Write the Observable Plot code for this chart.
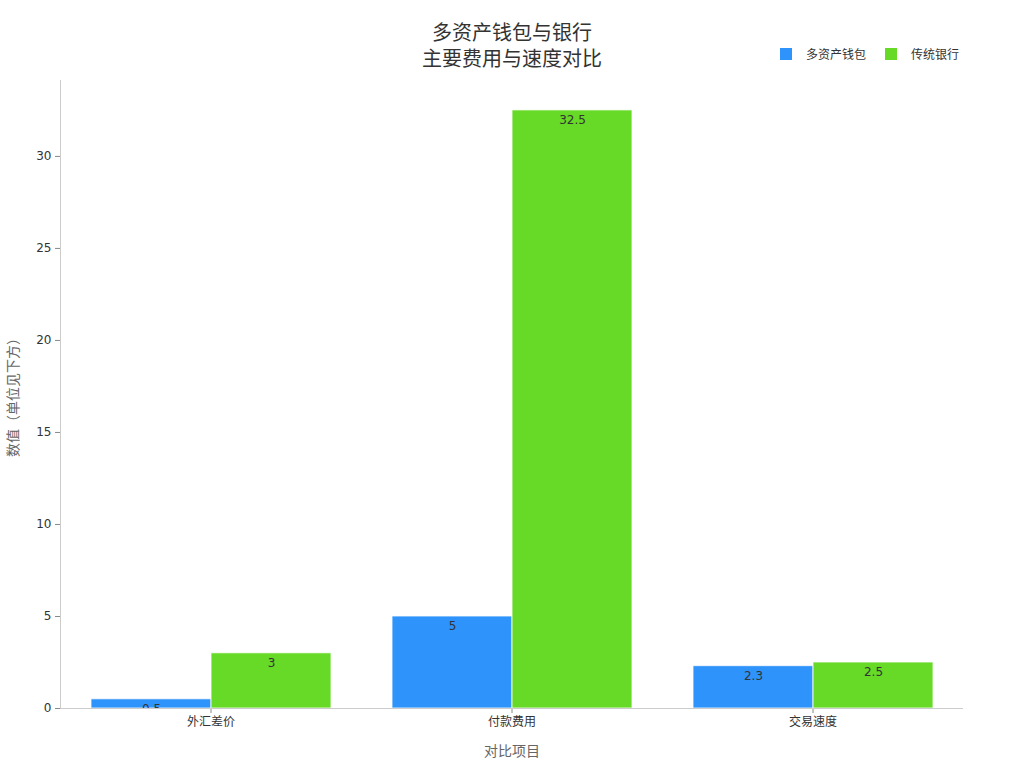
<!DOCTYPE html>
<html><head><meta charset="utf-8">
<script src="https://cdn.jsdelivr.net/npm/d3@7"></script>
<script src="https://cdn.jsdelivr.net/npm/@observablehq/plot@0.6"></script>
<style>
body{margin:0;background:#fff;font-family:"DejaVu Sans","Noto Sans CJK SC",sans-serif;}
#wrap{position:relative;width:1024px;height:768px;}
.title{position:absolute;left:0;width:1024px;text-align:center;font-size:20px;line-height:24px;height:24px;color:#333;font-family:"Noto Sans CJK SC","DejaVu Sans",sans-serif;}
#legend{position:absolute;left:780px;top:45px;font-size:12px;color:#333;font-family:"Noto Sans CJK SC",sans-serif;display:flex;align-items:center;}
#legend span.sw{display:inline-block;width:12px;height:12px;margin-right:14px;}
#legend span.lb{margin-right:19px;}
#ylabel{position:absolute;left:12px;top:394px;transform:translate(-50%,-50%) rotate(-90deg);white-space:nowrap;font-size:14px;color:#666;font-family:"Noto Sans CJK SC",sans-serif;}
#xlabel{position:absolute;left:0;width:1024px;top:740px;text-align:center;font-size:14px;line-height:20px;color:#666;font-family:"Noto Sans CJK SC",sans-serif;}
#chart svg [aria-label="frame"], #chart svg [aria-label="frame"] *{stroke:#ccc !important;}
#chart svg [aria-label="y-axis tick"], #chart svg [aria-label="y-axis tick"] *, #chart svg [aria-label="fx-axis tick"], #chart svg [aria-label="fx-axis tick"] *{stroke:#888 !important;}
</style></head>
<body><div id="wrap"><div class="title" style="top:20px">多资产钱包与银行</div><div class="title" style="top:46px">主要费用与速度对比</div><div id="legend"></div><div id="chart"></div><div id="ylabel"></div><div id="xlabel"></div></div>
<script>
const categories = ["外汇差价", "付款费用", "交易速度"];
const seriesNames = ["多资产钱包", "传统银行"];
const walletValues = [0.5, 5, 2.3];
const bankValues = [3, 32.5, 2.5];
const colors = ["#2E93FA", "#66DA26"];
const yTicks = [0, 5, 10, 15, 20, 25, 30];
const yLabel = "数值（单位见下方）";
const xLabel = "对比项目";

const data = [];
categories.forEach((c, i) => {
  data.push({cat: c, series: seriesNames[0], value: walletValues[i]});
  data.push({cat: c, series: seriesNames[1], value: bankValues[i]});
});

const leg = document.getElementById("legend");
seriesNames.forEach((s, i) => {
  leg.insertAdjacentHTML("beforeend", `<span class="sw" style="background:${colors[i]}"></span><span class="lb">${s}</span>`);
});
document.getElementById("ylabel").textContent = yLabel;
document.getElementById("xlabel").textContent = xLabel;

const chart = Plot.plot({
  width: 1024,
  height: 768,
  marginTop: 80,
  marginBottom: 60,
  marginLeft: 60,
  marginRight: 61,
  style: {fontFamily: '"DejaVu Sans","Noto Sans CJK SC",sans-serif', fontSize: "12px", color: "#333", background: "white"},
  fx: {domain: categories, padding: 0, label: null, tickSize: 5},
  x: {domain: seriesNames, paddingInner: 0, paddingOuter: 0.254, axis: null},
  y: {domain: [0, 34.125], ticks: yTicks, label: null, tickSize: 5, line: true},
  color: {domain: seriesNames, range: colors},
  marks: [
    Plot.barY(data, {fx: "cat", x: "series", y: "value", fill: "series", stroke: "white", strokeWidth: 1, strokeOpacity: 0.8}),
    Plot.ruleY([0], {stroke: "#ccc"}),
    Plot.text(data, {fx: "cat", x: "series", y: "value", text: d => String(d.value), dy: 10, fill: "#333", fontSize: 12, clip: "frame"})
  ]
});
document.getElementById("chart").appendChild(chart);
</script></body></html>
